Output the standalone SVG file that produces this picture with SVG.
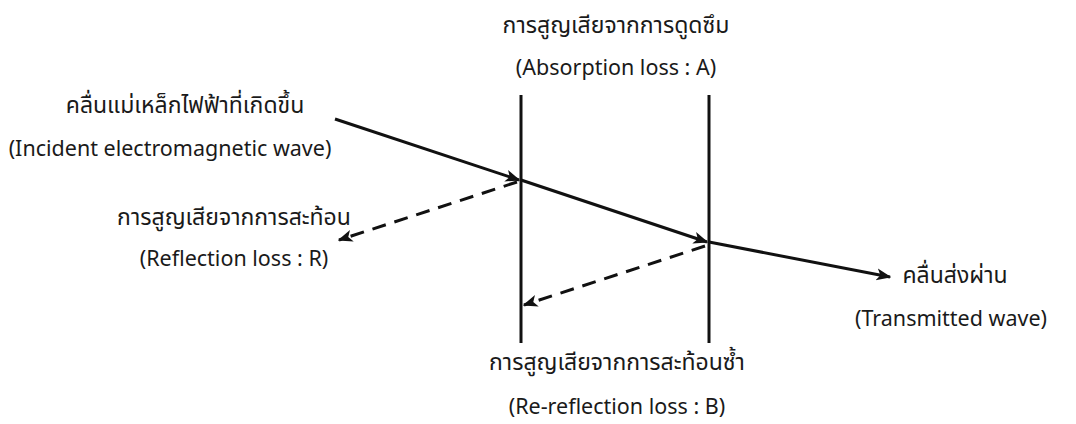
<svg xmlns="http://www.w3.org/2000/svg" width="1076" height="424" viewBox="0 0 1076 424">
<defs>
<marker id="ah" viewBox="0 0 10 10" refX="9" refY="5" markerWidth="5" markerHeight="5" orient="auto" markerUnits="strokeWidth">
<path d="M0,1 L10,5 L0,9 L2.5,5 Z" fill="#111"/>
</marker>
<style>
.t{font-family:"Noto Sans","Noto Sans Thai",sans-serif;font-size:21.5px;fill:#1a1a1a;text-anchor:middle}
.th{font-size:23px}
.ln{stroke:#111;stroke-width:3;fill:none}
.d{stroke:#111;stroke-width:3;fill:none;stroke-dasharray:14,9}
</style>
</defs>
<rect width="1076" height="424" fill="#fff"/>
<g id="barrier1"><line class="ln" x1="521" y1="95" x2="521" y2="343"/></g>
<g id="barrier2"><line class="ln" x1="709" y1="95" x2="709" y2="343"/></g>
<g id="connectors">
<line class="ln" x1="335" y1="119" x2="519" y2="180" marker-end="url(#ah)"/>
<line class="ln" x1="521" y1="180" x2="707" y2="242" marker-end="url(#ah)"/>
<line class="ln" x1="709" y1="242" x2="890" y2="277" marker-end="url(#ah)"/>
<line class="d" x1="517" y1="182" x2="339" y2="240" marker-end="url(#ah)"/>
<line class="d" x1="705" y1="246" x2="524" y2="305" marker-end="url(#ah)"/>
</g>
<g id="absorption"><text class="t th" x="616" y="33">การสูญเสียจากการดูดซึม</text><text class="t" x="616" y="75">(Absorption loss : A)</text></g>
<g id="incident"><text class="t th" x="185" y="113">คลื่นแม่เหล็กไฟฟ้าที่เกิดขึ้น</text><text class="t" x="170" y="156">(Incident electromagnetic wave)</text></g>
<g id="reflection"><text class="t th" x="234" y="225">การสูญเสียจากการสะท้อน</text><text class="t" x="234" y="266">(Reflection loss : R)</text></g>
<g id="transmitted"><text class="t th" x="955" y="283">คลื่นส่งผ่าน</text><text class="t" x="951" y="326">(Transmitted wave)</text></g>
<g id="rereflection"><text class="t th" x="617" y="370">การสูญเสียจากการสะท้อนซ้ำ</text><text class="t" x="617" y="414">(Re-reflection loss : B)</text></g>
</svg>
